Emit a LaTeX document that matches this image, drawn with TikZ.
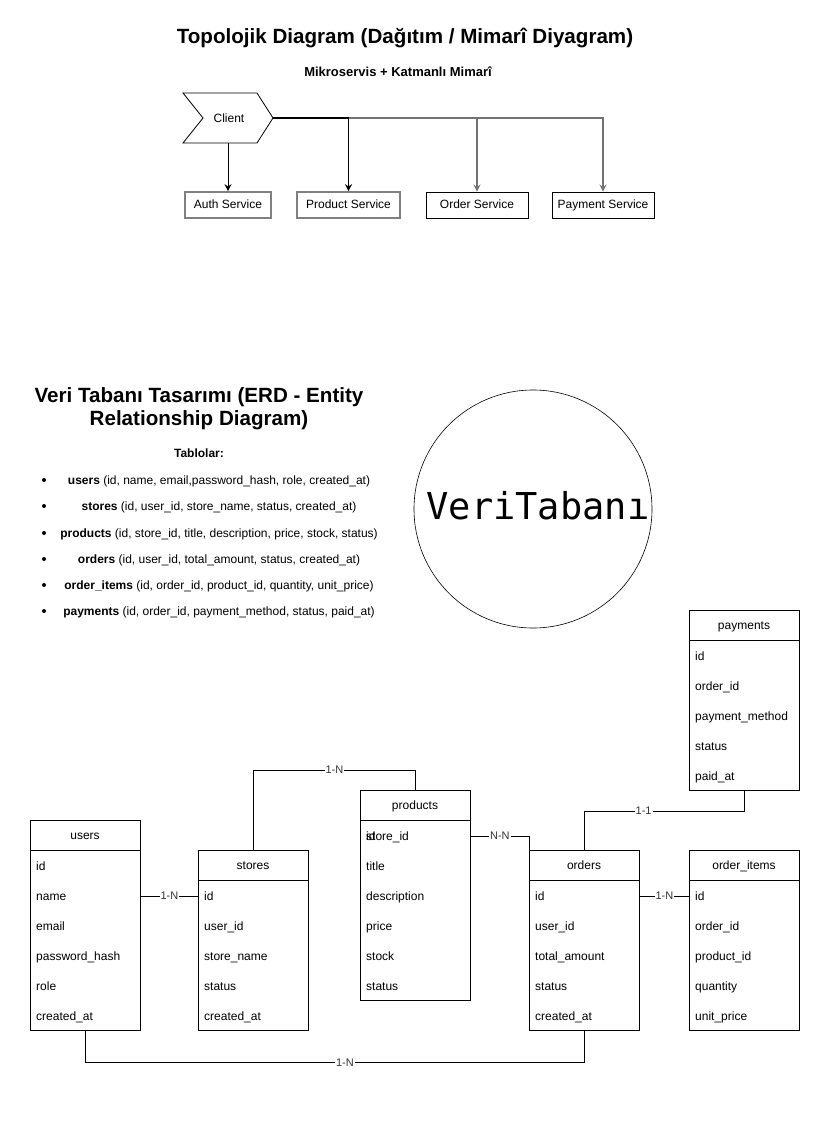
\documentclass[tikz,border=0pt]{standalone}
\usepackage{fontspec}
\setmainfont{Liberation Sans}
\newfontfamily\monofont{DejaVu Sans Mono}
\usetikzlibrary{arrows.meta}
\begin{document}
\begin{tikzpicture}[x=1pt,y=-1pt,
  txt/.style={font=\fontsize{12}{14}\selectfont, inner sep=0pt},
  svc/.style={draw, minimum height=26pt, inner sep=0pt, text height=8.6pt, text depth=2.4pt, font=\fontsize{12}{14}\selectfont},
  svcgray/.style={svc, draw=black!50, line width=1.6pt},
  svcblack/.style={svc, draw=black, line width=0.8pt},
  arr/.style={-{Stealth[length=7pt,width=7pt]}, line width=0.9pt},
  tbl/.style={draw, line width=0.8pt, minimum width=110pt, inner sep=0pt, anchor=north west},
  rowtxt/.style={txt, anchor=base west},
  lbl/.style={fill=white, inner sep=1pt, text=black!80, font=\fontsize{11}{13}\selectfont},
  conn/.style={line width=0.8pt},
  bul/.style={circle, fill=black, inner sep=0pt, minimum size=4pt}
]
\useasboundingbox[fill=white] (0,0) rectangle (827,1140);

% ---------- Topology ----------
\node[font=\fontsize{20.6}{24}\selectfont\bfseries, inner sep=0pt] (title1) at (405,38) {Topolojik Diagram (Dağıtım / Mimarî Diyagram)};
\node[font=\fontsize{13}{15}\selectfont\bfseries, inner sep=0pt] (sub1) at (398,72) {Mikroservis + Katmanlı Mimarî};

\node[minimum width=90pt, minimum height=50pt, inner sep=0pt] (client) at (228,118) {};
\draw[line width=0.8pt] (183,93) -- (257,93) -- (273,118) -- (257,143) -- (183,143) -- (203,118) -- cycle;
\node[txt] (clienttxt) at (229,118) {Client};

\node[svcgray, minimum width=86pt] (auth) at (228,205) {Auth Service};
\node[svcgray, minimum width=103pt] (product) at (348.5,205) {Product Service};
\node[svcblack, minimum width=102pt] (order) at (477,205) {Order Service};
\node[svcblack, minimum width=102pt] (payment) at (603,205) {Payment Service};

\draw[arr, draw=black!55, line width=1.3pt] (client.east) -| (payment.north);
\draw[arr, draw=black!55, line width=1.3pt] (client.east) -| (order.north);
\draw[arr, line width=1.3pt] (client.east) -| (product.north);
\draw[arr] (client.south) -- (auth.north);

% ---------- ERD text ----------
\node[font=\fontsize{20.6}{23}\selectfont\bfseries, align=center, inner sep=0pt] (title2) at (199,409) {Veri Tabanı Tasarımı (ERD - Entity\\Relationship Diagram)};
\node[font=\fontsize{12}{14}\selectfont\bfseries, inner sep=0pt] (tablolar) at (199,453) {Tablolar:};

\foreach \yy/\tt [count=\i] in {
  480/{\textbf{users} (id, name, email,password\_hash, role, created\_at)},
  506/{\textbf{stores} (id, user\_id, store\_name, status, created\_at)},
  533/{\textbf{products} (id, store\_id, title, description, price, stock, status)},
  559/{\textbf{orders} (id, user\_id, total\_amount, status, created\_at)},
  585/{\textbf{order\_items} (id, order\_id, product\_id, quantity, unit\_price)},
  611/{\textbf{payments} (id, order\_id, payment\_method, status, paid\_at)}} {
  \node[bul] (b\i) at (44,\yy) {};
  \node[txt, anchor=base] (l\i) at (219,\yy+4.3) {\tt};
}

% ---------- circle ----------
\node[draw, circle, line width=0.6pt, minimum size=238pt, inner sep=0pt] (db) at (533,509) {};
\node[font=\monofont\fontsize{37}{40}\selectfont, inner sep=0pt] (dbtxt) at (538,506) {VeriTabanı};

% ---------- tables ----------
\newcommand{\erdtab}[6]{%
  \node[tbl, minimum height=#4pt] (#1) at (#2,#3) {};
  \draw[line width=0.8pt] (#2,#3+30) -- (#2+110,#3+30);
  \node[txt, anchor=base] (#1-h) at (#2+55,#3+19.3) {#5};
  \foreach \r [count=\i] in {#6} {
    \node[rowtxt] (#1-\i) at (#2+6,#3+20.3+30*\i) {\r};
  }
}
\erdtab{payments}{689}{610}{180}{payments}{id,order\_id,payment\_method,status,paid\_at}
\erdtab{users}{30}{820}{210}{users}{id,name,email,password\_hash,role,created\_at}
\erdtab{stores}{198}{850}{180}{stores}{id,user\_id,store\_name,status,created\_at}
\erdtab{products}{360}{790}{210}{products}{store\_id,title,description,price,stock,status}
\node[rowtxt] (products-id) at (366,840.3) {id};
\erdtab{orders}{529}{850}{180}{orders}{id,user\_id,total\_amount,status,created\_at}
\erdtab{orderitems}{689}{850}{180}{order\_items}{id,order\_id,product\_id,quantity,unit\_price}

% ---------- connectors ----------
\draw[conn] (users.east |- 0,896) -- node[lbl]{1-N} (stores.west |- 0,896);
\draw[conn] (stores.north) -- ++(0,-80) coordinate (ca) -- node[lbl]{1-N} (ca -| products.north) -- (products.north);
\draw[conn] (products.east |- 0,836) -| node[lbl, pos=0.25]{N-N} (orders.north west);
\draw[conn] (orders.north) -- ++(0,-39) coordinate (cb) -- node[lbl, pos=0.37]{1-1} (cb -| payments.south) -- (payments.south);
\draw[conn] (orders.east |- 0,896) -- node[lbl]{1-N} (orderitems.west |- 0,896);
\draw[conn] (users.south) -- ++(0,32) coordinate (cc) -- node[lbl, pos=0.52]{1-N} (cc -| orders.south) -- (orders.south);
\end{tikzpicture}
\end{document}
